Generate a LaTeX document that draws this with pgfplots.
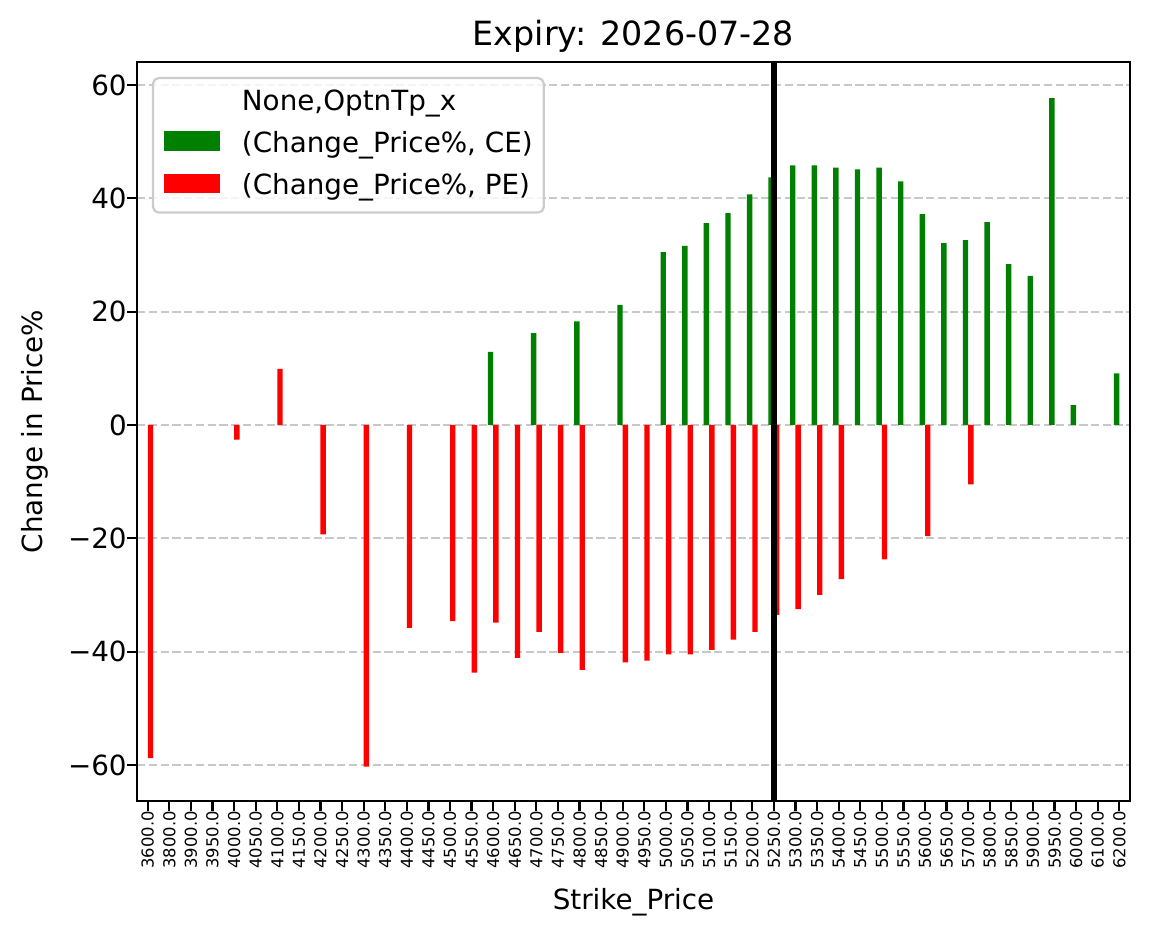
\documentclass[border=0pt]{standalone}
\usepackage{pgfplots}
\pgfplotsset{compat=1.18}
\usepackage{fontspec}
\setmainfont{DejaVu Sans}
\definecolor{mplgreen}{HTML}{008000}
\definecolor{mplred}{HTML}{FF0000}
\definecolor{gridgray}{HTML}{C8C8C8}
\definecolor{legframe}{HTML}{CCCCCC}
\begin{document}
\begin{tikzpicture}
\useasboundingbox (-49.3pt,-49.7pt) rectangle (364.3pt,288.3pt);
\begin{axis}[
  at={(0,0)}, anchor=south west,
  scale only axis, width=357.5pt, height=266pt,
  xmin=-0.5, xmax=45.5, ymin=-66.35, ymax=64.06,
  axis line style={line width=0.8pt, black},
  tick align=outside, major tick length=3.5pt,
  tick style={black, line width=0.8pt},
  xtick pos=bottom, ytick pos=left,
  xtick={0,...,45},
  xticklabels={3600.0,3800.0,3900.0,3950.0,4000.0,4050.0,4100.0,4150.0,4200.0,4250.0,4300.0,4350.0,4400.0,4450.0,4500.0,4550.0,4600.0,4650.0,4700.0,4750.0,4800.0,4850.0,4900.0,4950.0,5000.0,5050.0,5100.0,5150.0,5200.0,5250.0,5300.0,5350.0,5400.0,5450.0,5500.0,5550.0,5600.0,5650.0,5700.0,5800.0,5850.0,5900.0,5950.0,6000.0,6100.0,6200.0},
  xticklabel style={rotate=90, anchor=east, inner sep=0pt, font=\fontsize{5.9}{6}\selectfont},
  ytick={-60,-40,-20,0,20,40,60},
  yticklabels={−60,−40,−20,0,20,40,60},
  yticklabel style={anchor=east, inner sep=0pt, font=\fontsize{10}{12}\selectfont},
  ymajorgrids, xmajorgrids=false,
  major grid style={gridgray, line width=0.8pt, dash pattern=on 2.96pt off 1.28pt},
  title={Expiry: 2026-07-28},
  title style={at={(axis description cs:0.5,1)}, anchor=base, yshift=0pt, inner sep=0pt, font=\fontsize{12}{14}\selectfont},
  xlabel={Strike\_Price},
  xlabel style={at={(axis description cs:0.5,0)}, anchor=base, yshift=-39.2pt, inner sep=0pt, font=\fontsize{10}{12}\selectfont},
  ylabel={Change in Price\%},
  ylabel style={at={(axis description cs:0,0.5)}, anchor=base, yshift=33.9pt, inner sep=0pt, font=\fontsize{10}{12}\selectfont},
  legend style={at={(axis description cs:0,1)}, anchor=north west, xshift=5.4pt, yshift=-5.4pt,
    draw=legframe, line width=0.8pt, rounded corners=2pt, fill=white, fill opacity=0.8, text opacity=1,
    inner sep=4pt, font=\fontsize{10}{12}\selectfont,
    nodes={inner sep=0pt, text height=7.5pt, text depth=2.5pt},
    row sep=5.2pt, column sep=0pt},
  legend cell align=left,
]
\addlegendimage{empty legend}
\addlegendentry{None,OptnTp\_x}
\addplot[ybar, bar width=0.25, bar shift=-0.125, fill=mplgreen, draw=none,
  legend image code/.code={\fill[mplgreen, sharp corners, fill opacity=1] (-2pt,-2pt) rectangle (18pt,5pt); \path (26pt,0pt);}]
coordinates {
(16,12.9) (18,16.2) (20,18.3) (22,21.2) (24,30.5) (25,31.6) (26,35.6) (27,37.4)
(28,40.7) (29,43.7) (30,45.8) (31,45.8) (32,45.4) (33,45.1) (34,45.4) (35,43.0)
(36,37.2) (37,32.1) (38,32.6) (39,35.8) (40,28.4) (41,26.3) (42,57.7) (43,3.5) (45,9.1)
};
\addlegendentry{(Change\_Price\%, CE)}
\addplot[ybar, bar width=0.25, bar shift=0.125, fill=mplred, draw=none,
  legend image code/.code={\fill[mplred, sharp corners, fill opacity=1] (-2pt,-2pt) rectangle (18pt,5pt); \path (26pt,0pt);}]
coordinates {
(0,-58.8) (4,-2.6) (6,9.9) (8,-19.3) (10,-60.3) (12,-35.8) (14,-34.6) (15,-43.7)
(16,-34.9) (17,-41.1) (18,-36.5) (19,-40.2) (20,-43.2) (22,-41.9) (23,-41.6)
(24,-40.5) (25,-40.5) (26,-39.7) (27,-37.9) (28,-36.5) (29,-33.5) (30,-32.5)
(31,-30.0) (32,-27.2) (34,-23.7) (36,-19.6) (38,-10.5)
};
\addlegendentry{(Change\_Price\%, PE)}
\addplot[black, line width=2.4pt, forget plot] coordinates {(29,-70) (29,70)};
\end{axis}
\end{tikzpicture}
\end{document}
